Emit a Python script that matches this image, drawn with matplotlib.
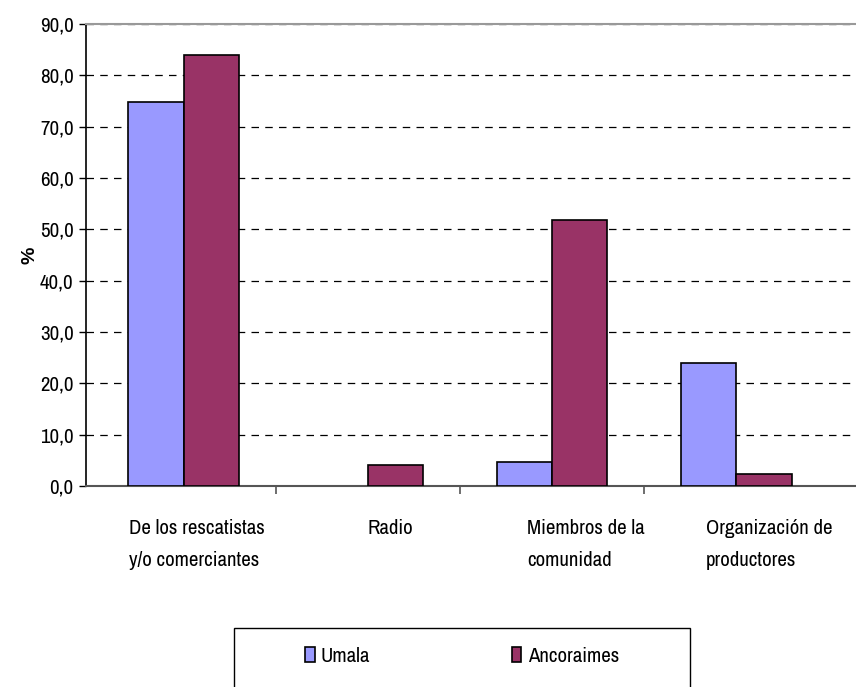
import matplotlib
matplotlib.use("Agg")
import matplotlib.pyplot as plt
from matplotlib.patches import Rectangle
import numpy as np

categories = ["De los rescatistas\ny/o comerciantes", "Radio",
              "Miembros de la\ncomunidad", "Organización de\nproductores"]
umala = [74.8, 0.0, 4.6, 24.0]
ancoraimes = [84.0, 4.1, 51.8, 2.3]
series_names = ["Umala", "Ancoraimes"]
yticks = np.arange(0, 91, 10)
label_shift = [0.07, 0.12, 0.185, 0.18]

plt.rcParams['font.family'] = ['Archivo Narrow', 'Liberation Sans', 'DejaVu Sans']

fig = plt.figure(figsize=(8.56, 6.87), dpi=100)
ax = fig.add_axes([0.1005, 0.2926, 0.8995, 0.6724])

x = np.arange(len(categories))
w = 0.30
lw_u = [1.2 if v > 0 else 0 for v in umala]
lw_a = [1.2 if v > 0 else 0 for v in ancoraimes]
ax.bar(x - w / 2, umala, w, color="#9999ff", edgecolor="black", linewidth=lw_u, label=series_names[0], zorder=3)
ax.bar(x + w / 2, ancoraimes, w, color="#993366", edgecolor="black", linewidth=lw_a, label=series_names[1], zorder=3)

ax.set_ylim(0, 90)
ax.set_xlim(-0.53, 3.65)
ax.set_yticks(yticks)
ax.set_yticklabels([f"{v:.1f}".replace(".", ",") for v in yticks], fontsize=15)
ax.yaxis.grid(True, linestyle=(0, (6, 5)), color="black", linewidth=0.9, zorder=0)

ax.set_xticks(x + np.array(label_shift), minor=True)
ax.set_xticklabels(categories, minor=True, linespacing=1.85, multialignment="left")
ax.set_xticks(x[:-1] + 0.5)
ax.set_xticklabels([])
ax.tick_params(axis="x", which="minor", length=0, pad=24, labelsize=15)
ax.tick_params(axis="x", which="major", length=6, width=1.2, color="#555555")
ax.tick_params(axis="y", length=5, width=1, direction="out", pad=4)

ax.spines["right"].set_visible(False)
ax.spines["top"].set_color("#999999")
ax.spines["top"].set_linewidth(1.5)
ax.spines["left"].set_linewidth(1.2)
ax.spines["bottom"].set_color("#555555")
ax.spines["bottom"].set_linewidth(1.5)

ax.set_ylabel("%", fontsize=14, fontweight="bold", family="Liberation Sans", labelpad=1)

# legend box, cut off at the bottom edge as in the original
fig.patches.append(Rectangle((234 / 856, -0.01), (690 - 234) / 856, 0.01 + (687 - 628) / 687,
                             transform=fig.transFigure, facecolor="white", edgecolor="black",
                             linewidth=1.0))
leg = fig.legend(loc="center", bbox_to_anchor=(462 / 856, 1 - 656 / 687), ncol=2,
                 fontsize=15, frameon=False, handlelength=0.45, handleheight=0.75,
                 handletextpad=0.3, columnspacing=6.8)

fig.savefig("out.png", dpi=100)
